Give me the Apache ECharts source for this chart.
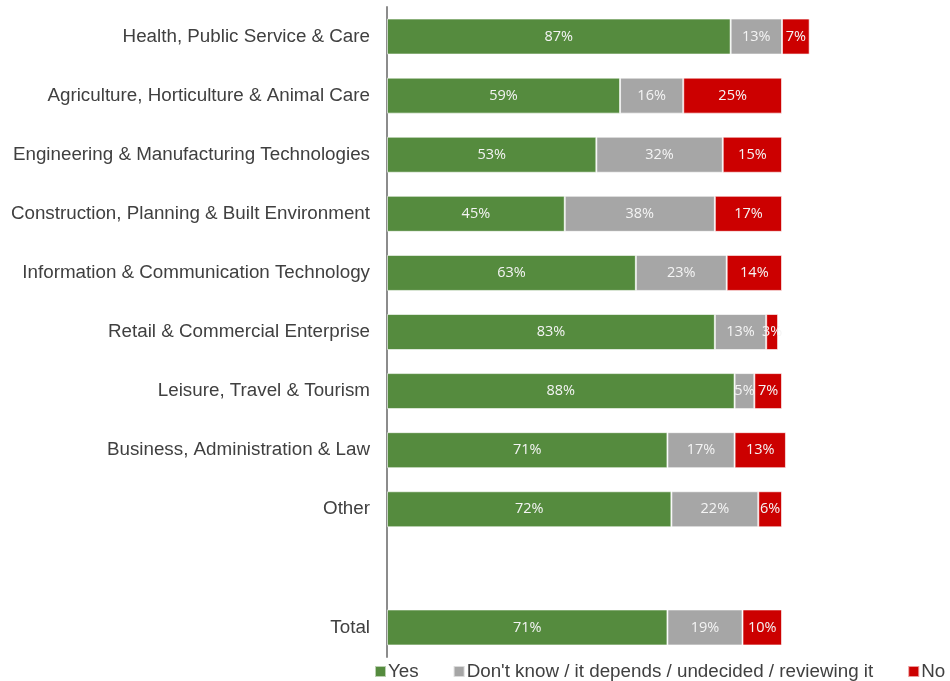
<!DOCTYPE html>
<html>
<head>
<meta charset="utf-8">
<script src="https://cdn.jsdelivr.net/npm/echarts@6/dist/echarts.min.js"></script>
<style>
  html, body { margin: 0; padding: 0; background: #ffffff; }
  #chart { width: 950px; height: 681px; }
</style>
</head>
<body>
<div id="chart"></div>
<script>
// Sectors, top to bottom; the blank entry leaves a gap before the total row
const categories = [
  'Health, Public Service & Care',
  'Agriculture, Horticulture & Animal Care',
  'Engineering & Manufacturing Technologies',
  'Construction, Planning & Built Environment',
  'Information & Communication Technology',
  'Retail & Commercial Enterprise',
  'Leisure, Travel & Tourism',
  'Business, Administration & Law',
  'Other',
  '',
  'Total'
];

// Percentages per answer
const yesValues     = [87, 59, 53, 45, 63, 83, 88, 71, 72, null, 71];
const unsureValues  = [13, 16, 32, 38, 23, 13, 5, 17, 22, null, 19];
const noValues      = [7, 25, 15, 17, 14, 3, 7, 13, 6, null, 10];

const seriesNames = ['Yes', "Don't know / it depends / undecided / reviewing it", 'No'];
const seriesColors = ['#558B3E', '#A6A6A6', '#CC0000'];

const chart = echarts.init(document.getElementById('chart'), null, { renderer: 'canvas' });

function barSeries(name, data, color) {
  return {
    name: name,
    type: 'bar',
    stack: 'all',
    data: data,
    barWidth: 36,
    clip: false,
    itemStyle: { color: color, borderColor: 'rgba(255,255,255,0.6)', borderWidth: 1 },
    label: {
      show: true,
      position: 'inside',
      formatter: p => p.value == null ? '' : p.value + '%',
      color: '#f4f4f4',
      fontFamily: 'Open Sans',
      fontSize: 14.5
    },
    emphasis: { disabled: true }
  };
}

chart.setOption({
  animation: false,
  backgroundColor: '#ffffff',
  grid: { left: 387, right: 10, top: 7, bottom: 24, containLabel: false },
  xAxis: {
    type: 'value',
    min: 0,
    max: 140,
    show: false
  },
  yAxis: {
    type: 'category',
    inverse: true,
    data: categories,
    axisLine: { show: true, lineStyle: { color: '#8C8C8C', width: 2 } },
    axisTick: { show: false },
    axisLabel: {
      margin: 17,
      color: '#404040',
      fontFamily: 'Liberation Sans',
      fontSize: 18.8,
      lineHeight: 26,
      verticalAlign: 'middle',
      padding: [4, 0, 0, 0]
    }
  },
  legend: {
    bottom: -5,
    left: 369,
    width: 700,
    itemWidth: 11,
    itemHeight: 11,
    itemGap: 34,
    icon: 'rect',
    textStyle: { color: '#404040', fontFamily: 'Liberation Sans', fontSize: 18.8, padding: [0, 0, 0, -3] },
    data: seriesNames
  },
  series: [
    barSeries(seriesNames[0], yesValues, seriesColors[0]),
    barSeries(seriesNames[1], unsureValues, seriesColors[1]),
    barSeries(seriesNames[2], noValues, seriesColors[2])
  ]
});
</script>
</body>
</html>
